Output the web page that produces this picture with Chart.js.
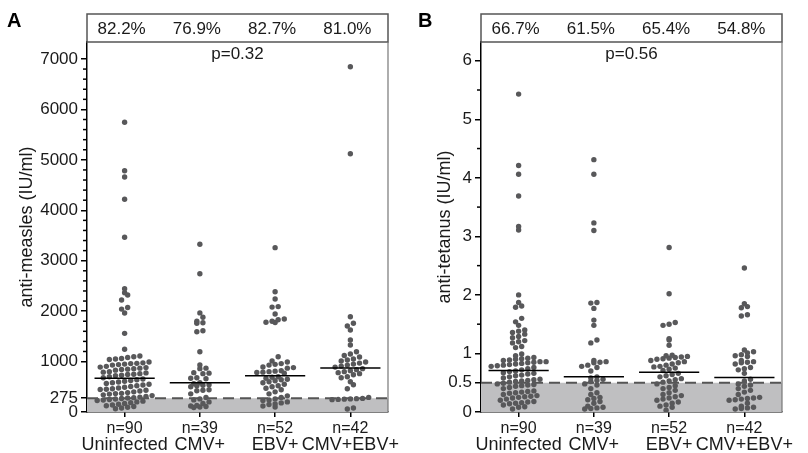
<!DOCTYPE html>
<html>
<head>
<meta charset="utf-8">
<script src="https://cdn.jsdelivr.net/npm/chart.js@4.4.1/dist/chart.umd.min.js"></script>
<style>
  body { margin: 0; background: #fff; }
  #wrap { position: relative; width: 808px; height: 453px; }
  canvas { position: absolute; top: 0; }
  #chartA { left: 0; }
  #chartB { left: 404px; }
</style>
</head>
<body>
<div id="wrap">
  <canvas id="chartA" width="404" height="453"></canvas>
  <canvas id="chartB" width="404" height="453"></canvas>
</div>
<script>
// groups and labels
const groups = ['Uninfected', 'CMV+', 'EBV+', 'CMV+EBV+'];
const groupN = ['n=90', 'n=39', 'n=52', 'n=42'];

// panel A: anti-measles (IU/ml)
const measlesPct = ['82.2%', '76.9%', '82.7%', '81.0%'];
const measlesP = 'p=0.32';
const measlesCutoff = 275;
const measlesMedian = [668, 581, 720, 872];
const measlesTicks = [0, 275, 1000, 2000, 3000, 4000, 5000, 6000, 7000];
const measlesUninf = [5745, 4785, 4660, 4218, 3464, 2445, 2366, 2320, 2221, 2072, 2040, 1963, 1560, 1243,
  1110, 1095, 1080, 1060, 1050, 1040, 990, 975, 965, 960, 950, 940, 930, 905, 890, 880, 870, 860, 850, 845,
  830, 800, 790, 775, 760, 750, 745, 730, 720, 700, 680,
  655, 640, 625, 610, 595, 580, 565, 550, 535, 520, 505, 490, 475, 460, 450, 445, 430, 415, 400, 385,
  370, 365, 355, 340, 325, 310, 295, 285, 278,
  268, 258, 248, 238, 228, 215, 200, 185, 170, 155, 140, 125, 110, 95, 80, 65];
const measlesCMV = [3325, 2742, 1965, 1878, 1800, 1771, 1760, 1610, 1592, 1196, 932, 870, 860, 780, 770, 760,
  680, 670, 660, 581, 560, 540, 530, 520, 500, 440, 430, 420, 360, 290, 260, 240, 200, 170, 130, 120, 110, 100, 90];
const measlesEBV = [3259, 2386, 2240, 2090, 2080, 1943, 1844, 1830, 1800, 1780, 1775, 1097, 1010, 990, 960,
  945, 930, 892, 880, 870, 820, 810, 800, 790, 785, 770, 700, 690, 670, 650, 640, 620, 600, 580, 550, 520,
  500, 470, 440, 400, 360, 320, 290, 260, 240, 230, 200, 180, 160, 150, 120, 100];
const measlesBoth = [6847, 5122, 1890, 1760, 1705, 1626, 1428, 1329, 1196, 1150, 1120, 1090, 1050, 1030,
  1010, 990, 970, 950, 930, 910, 890, 860, 840, 820, 800, 780, 760, 740, 700, 680, 600, 540, 460, 290,
  270, 265, 260, 255, 250, 245, 80, 60];

// panel B: anti-tetanus (IU/ml)
const tetanusPct = ['66.7%', '61.5%', '65.4%', '54.8%'];
const tetanusP = 'p=0.56';
const tetanusCutoff = 0.5;
const tetanusMedian = [0.71, 0.60, 0.68, 0.59];
const tetanusTicks = [0, 0.5, 1, 2, 3, 4, 5, 6];
const tetanusUninf = [5.43, 4.21, 4.06, 3.69, 3.17, 3.11, 2.0, 1.87, 1.81, 1.79, 1.60, 1.54, 1.48, 1.40,
  1.38, 1.36, 1.33, 1.29, 1.27, 1.22, 1.20, 1.18, 1.12, 1.10, 0.99, 0.96, 0.93, 0.92, 0.91, 0.90, 0.89,
  0.88, 0.86, 0.86, 0.85, 0.84, 0.83, 0.82, 0.81, 0.80, 0.79, 0.78, 0.76, 0.74, 0.72, 0.70, 0.69, 0.67,
  0.66, 0.65, 0.63, 0.62, 0.60, 0.58, 0.56, 0.55, 0.54, 0.53, 0.52, 0.51, 0.49, 0.48, 0.47, 0.46, 0.45,
  0.44, 0.42, 0.40, 0.36, 0.35, 0.34, 0.33, 0.32, 0.30, 0.28, 0.27, 0.26, 0.25, 0.24, 0.22, 0.20, 0.18,
  0.17, 0.16, 0.15, 0.14, 0.12, 0.09, 0.08, 0.05];
const tetanusCMV = [4.31, 4.06, 3.23, 3.10, 1.87, 1.86, 1.77, 1.57, 1.48, 1.23, 1.18, 0.88, 0.86, 0.85,
  0.84, 0.80, 0.78, 0.76, 0.70, 0.60, 0.58, 0.56, 0.54, 0.52, 0.48, 0.46, 0.40, 0.33, 0.30, 0.25, 0.23,
  0.21, 0.18, 0.15, 0.10, 0.08, 0.07, 0.06, 0.05];
const tetanusEBV = [2.81, 2.02, 1.53, 1.50, 1.48, 1.25, 1.23, 1.14, 0.97, 0.96, 0.95, 0.94, 0.93, 0.92,
  0.91, 0.90, 0.88, 0.86, 0.84, 0.82, 0.80, 0.78, 0.77, 0.75, 0.73, 0.71, 0.66, 0.64, 0.62, 0.60, 0.57,
  0.55, 0.53, 0.51, 0.48, 0.45, 0.42, 0.40, 0.37, 0.33, 0.30, 0.28, 0.26, 0.24, 0.22, 0.20, 0.17, 0.15,
  0.12, 0.10, 0.08, 0.03];
const tetanusBoth = [2.46, 1.85, 1.80, 1.78, 1.66, 1.64, 1.06, 1.03, 1.01, 0.98, 0.96, 0.95, 0.88, 0.86,
  0.85, 0.84, 0.82, 0.76, 0.74, 0.72, 0.66, 0.56, 0.53, 0.48, 0.46, 0.44, 0.40, 0.37, 0.34, 0.30, 0.25,
  0.24, 0.23, 0.22, 0.21, 0.20, 0.15, 0.10, 0.08, 0.07, 0.06, 0.05];

const FONT = 'Liberation Sans, Arial, sans-serif';
const DOT = '#58585a';

// Prism-like scatter: dots that fall in the same row band are spread side by side
function spreadDots(chart, rowH, step) {
  const xs = chart.scales.x, ys = chart.scales.y;
  const base = ys.getPixelForValue(0);
  chart.data.datasets.forEach(ds => {
    if (!ds.values) return;
    const cx = xs.getPixelForValue(ds.group);
    const rows = {};
    ds.values.slice().sort((a, b) => a - b).forEach(v => {
      const r = Math.floor((base - ys.getPixelForValue(v)) / rowH);
      (rows[r] = rows[r] || []).push(v);
    });
    const pts = [];
    Object.keys(rows).forEach(r => {
      const row = rows[r];
      row.forEach((v, k) => {
        const off = (k - (row.length - 1) / 2) * step;
        pts.push({ x: xs.getValueForPixel(cx + off), y: v });
      });
    });
    ds.data = pts;
  });
  chart.update('none');
}

function makePanel(id, opt) {
  const datasets = [];
  // grey area under the cutoff with dashed line on top
  datasets.push({
    type: 'line',
    data: [{ x: -0.5, y: opt.cutoff }, { x: 3.5, y: opt.cutoff }],
    borderColor: '#555',
    borderWidth: 2,
    borderDash: [11, 6],
    backgroundColor: '#bfbfc1',
    fill: 'origin',
    pointRadius: 0,
    order: 3
  });
  opt.series.forEach((vals, i) => {
    datasets.push({
      type: 'scatter',
      group: i,
      values: vals,
      data: vals.map(v => ({ x: i, y: v })),
      backgroundColor: DOT,
      borderWidth: 0,
      pointRadius: 2.7,
      pointHoverRadius: 2.7,
      order: 2
    });
    datasets.push({
      type: 'line',
      data: [{ x: i - 0.4, y: opt.median[i] }, { x: i + 0.4, y: opt.median[i] }],
      borderColor: '#000',
      borderWidth: 1.5,
      pointRadius: 0,
      fill: false,
      order: 1
    });
  });

  const decor = {
    id: 'decor',
    afterDraw(chart) {
      const ctx = chart.ctx, a = chart.chartArea, xs = chart.scales.x, ys = chart.scales.y;
      ctx.save();
      // header box with percentages
      ctx.strokeStyle = '#555';
      ctx.lineWidth = 1.5;
      ctx.strokeRect(a.left, 14, a.right - a.left, a.top - 14);
      // right frame
      ctx.strokeStyle = '#777';
      ctx.lineWidth = 1.2;
      ctx.beginPath();
      ctx.moveTo(a.right, a.top);
      ctx.lineTo(a.right, a.bottom);
      ctx.stroke();
      ctx.fillStyle = '#1a1a1a';
      ctx.font = '17px ' + FONT;
      ctx.textAlign = 'center';
      ctx.textBaseline = 'middle';
      opt.pct.forEach((t, i) => ctx.fillText(t, xs.getPixelForValue(i) - 3, 29));
      ctx.fillText(opt.p, (a.left + a.right) / 2, 54);
      // minor ticks on y axis
      ctx.strokeStyle = '#000';
      ctx.lineWidth = 1.5;
      opt.minor.forEach(v => {
        const y = ys.getPixelForValue(v);
        ctx.beginPath();
        ctx.moveTo(a.left - 4, y);
        ctx.lineTo(a.left, y);
        ctx.stroke();
      });
      // panel letter
      ctx.font = 'bold 20px ' + FONT;
      ctx.textAlign = 'left';
      ctx.fillStyle = '#000';
      ctx.fillText(opt.letter, opt.letterX, 21);
      ctx.restore();
    }
  };

  const chart = new Chart(document.getElementById(id), {
    data: { datasets: datasets },
    options: {
      responsive: false,
      animation: false,
      devicePixelRatio: 1,
      layout: { padding: { top: 42, left: opt.padLeft, right: opt.padRight, bottom: 0 } },
      plugins: { legend: { display: false }, tooltip: { enabled: false } },
      scales: {
        x: {
          type: 'linear',
          position: 'bottom',
          min: -0.5,
          max: 3.5,
          afterBuildTicks: s => { s.ticks = [0, 1, 2, 3].map(v => ({ value: v })); },
          afterFit: s => { s.height = 23; },
          grid: { drawOnChartArea: false, tickLength: 5, color: '#000', lineWidth: 1.5 },
          border: { color: '#000', width: 1.5 },
          ticks: {
            color: '#1a1a1a',
            padding: 2,
            maxRotation: 0,
            autoSkip: false,
            font: { family: FONT, size: 16, lineHeight: 1.2 },
            callback: v => groupN[v]
          }
        },
        xName: {
          type: 'linear',
          position: 'bottom',
          min: -0.5,
          max: 3.5,
          afterBuildTicks: s => { s.ticks = [0, 1, 2, 3].map(v => ({ value: v })); },
          afterFit: s => { s.height = 18; },
          grid: { display: false, drawTicks: false },
          border: { display: false },
          ticks: {
            color: '#1a1a1a',
            padding: 0,
            maxRotation: 0,
            autoSkip: false,
            font: { family: FONT, size: 18, lineHeight: 1.1 },
            callback: v => groups[v]
          }
        },
        y: {
          type: 'linear',
          min: 0,
          max: opt.max,
          afterBuildTicks: s => { s.ticks = opt.ticks.map(v => ({ value: v })); },
          afterFit: s => { s.width = opt.axisWidth; },
          grid: { drawOnChartArea: false, tickLength: 6, color: '#000', lineWidth: 1.5 },
          border: { color: '#000', width: 1.5 },
          ticks: {
            color: '#1a1a1a',
            padding: 3,
            font: { family: FONT, size: 17 },
            callback: v => String(v)
          },
          title: {
            display: true,
            text: opt.title,
            color: '#1a1a1a',
            padding: 0,
            font: { family: FONT, size: 18 }
          }
        }
      }
    },
    plugins: [decor]
  });
  spreadDots(chart, 5.6, 6.1);
  return chart;
}

makePanel('chartA', {
  letter: 'A', letterX: 7,
  title: 'anti-measles (IU/ml)',
  series: [measlesUninf, measlesCMV, measlesEBV, measlesBoth],
  median: measlesMedian, cutoff: measlesCutoff,
  pct: measlesPct, p: measlesP,
  ticks: measlesTicks,
  minor: [1200, 1400, 1600, 1800, 2200, 2400, 2600, 2800, 3200, 3400, 3600, 3800, 4200, 4400, 4600, 4800,
    5200, 5400, 5600, 5800, 6200, 6400, 6600, 6800],
  max: 7337,
  padLeft: 16, axisWidth: 71, padRight: 16
});

makePanel('chartB', {
  letter: 'B', letterX: 14,
  title: 'anti-tetanus (IU/ml)',
  series: [tetanusUninf, tetanusCMV, tetanusEBV, tetanusBoth],
  median: tetanusMedian, cutoff: tetanusCutoff,
  pct: tetanusPct, p: tetanusP,
  ticks: tetanusTicks,
  minor: [1.5, 2.5, 3.5, 4.5, 5.5],
  max: 6.32,
  padLeft: 30, axisWidth: 47, padRight: 26
});
</script>
</body>
</html>
